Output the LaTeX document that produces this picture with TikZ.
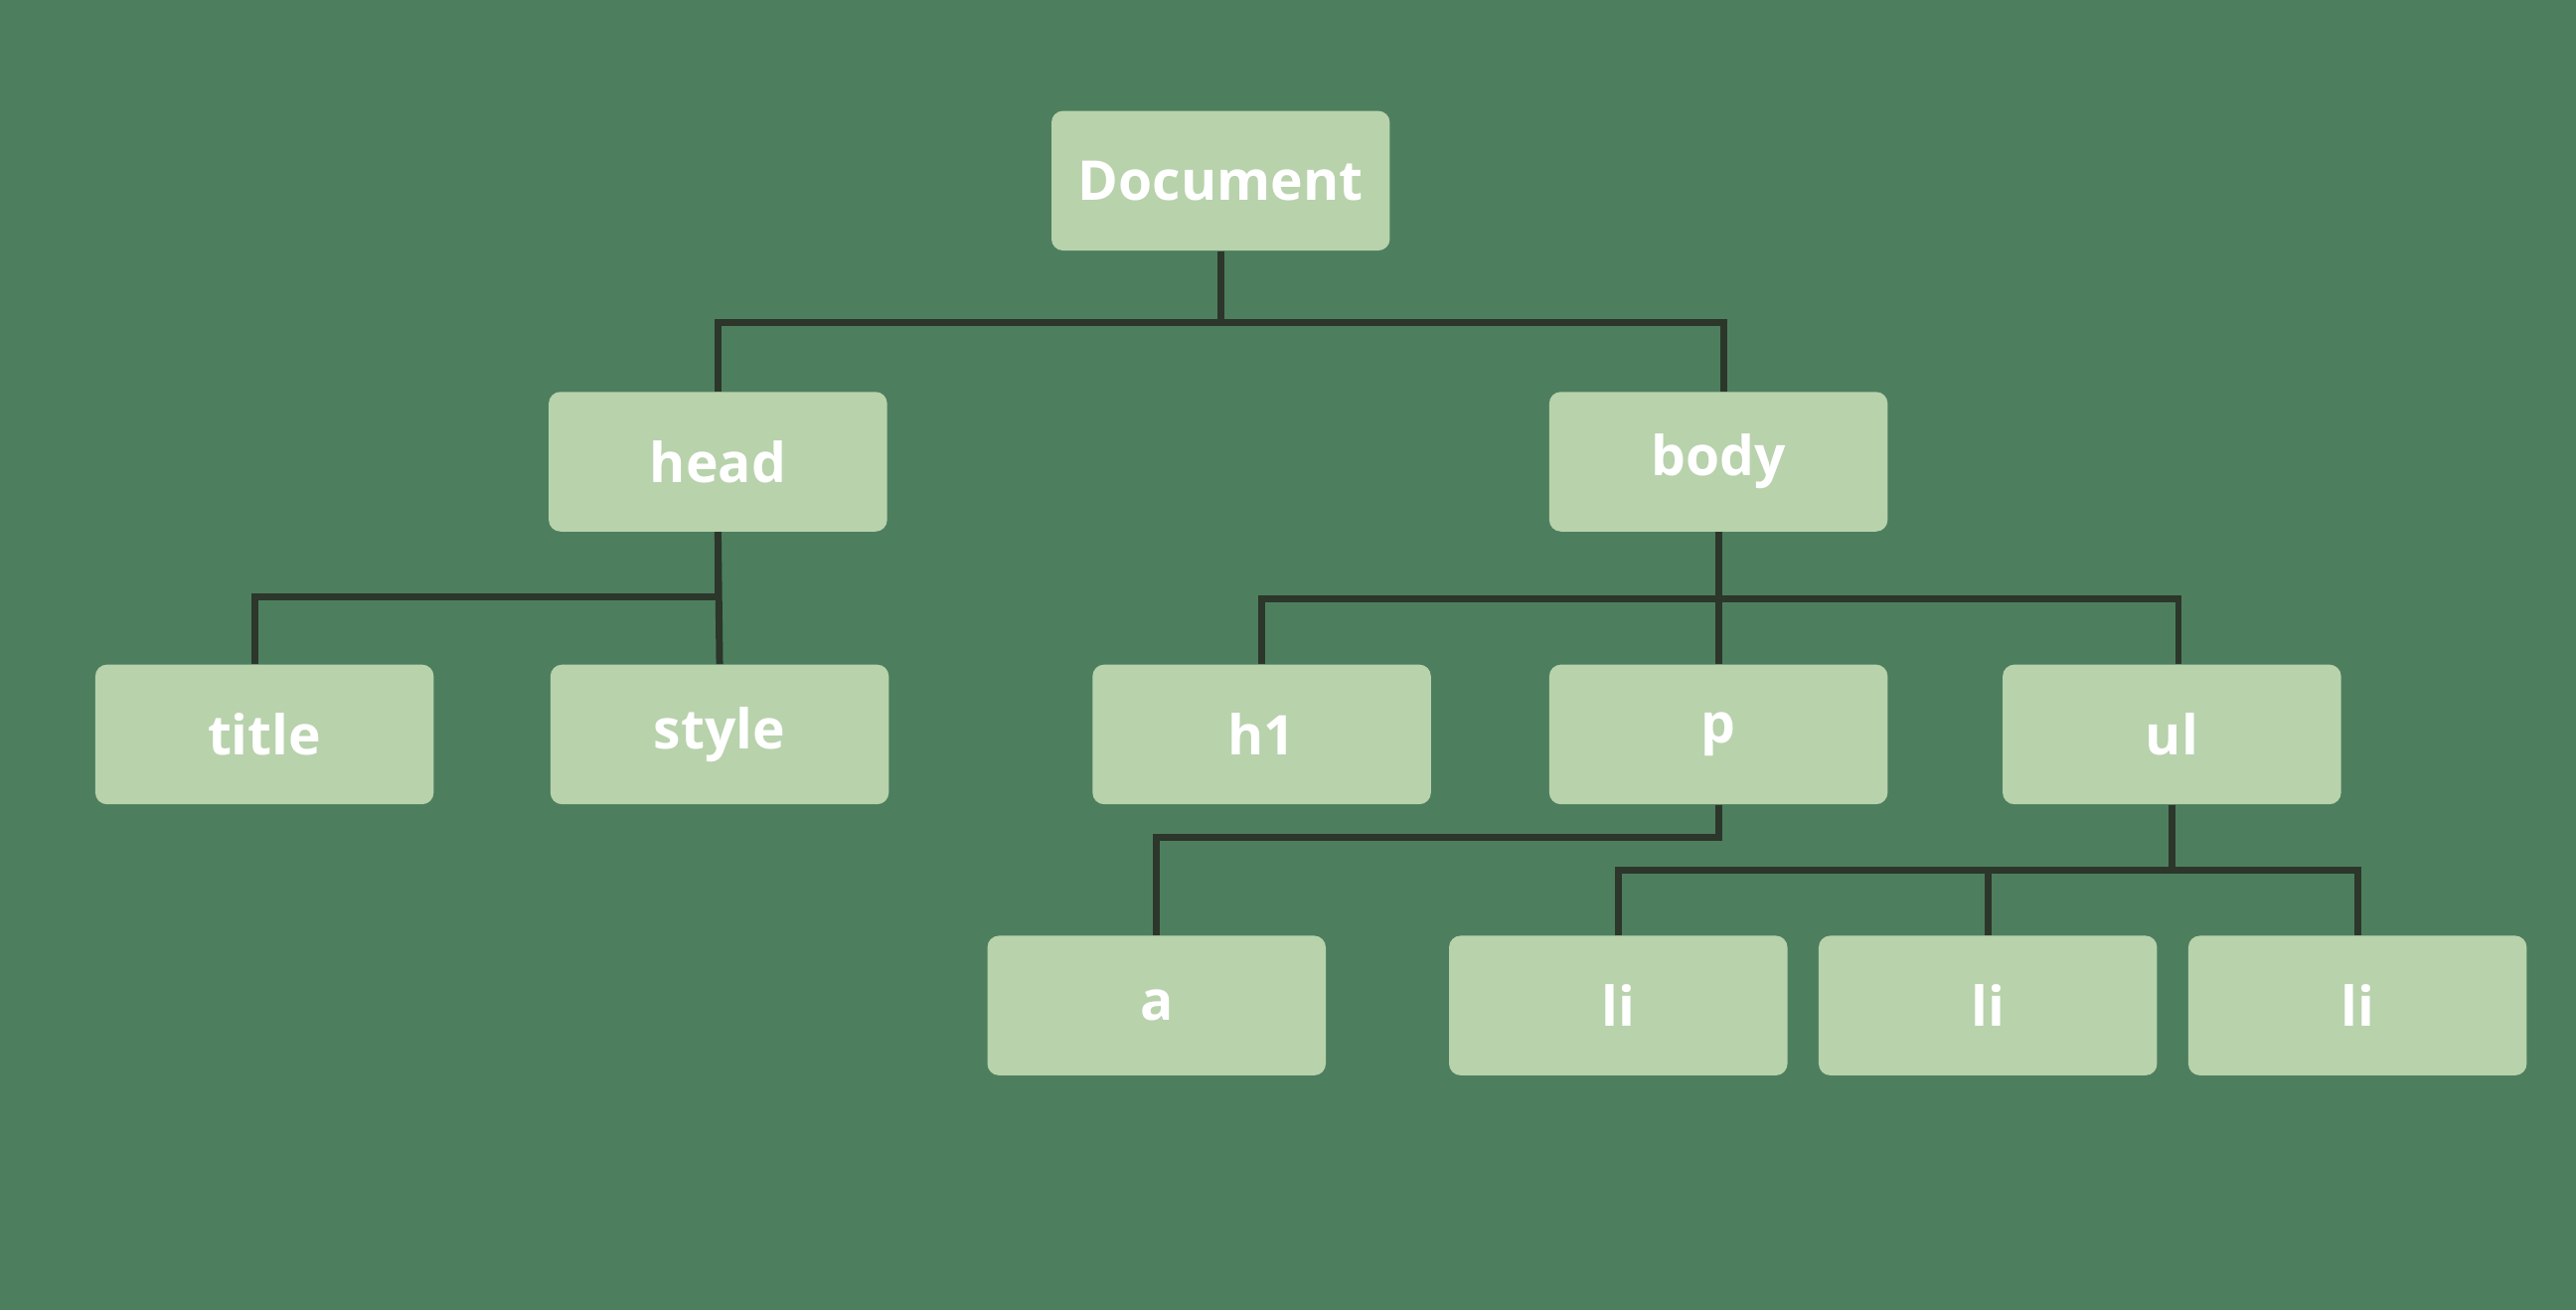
\documentclass[tikz,border=0pt]{standalone}
\usepackage{fontspec}
\setmainfont{Open Sans}
\definecolor{bggreen}{RGB}{77,127,94}
\definecolor{boxgreen}{RGB}{184,210,172}
\definecolor{wirecol}{RGB}{44,54,42}
\begin{document}
\begin{tikzpicture}[x = 0.02cm, y = -0.02cm,
  box/.style = {fill = boxgreen, rounded corners = 4pt, minimum width = 4.12cm, minimum height = 1.7cm, inner sep = 0pt, text = white, font = \fontsize{19}{22}\selectfont\bfseries},
  wire/.style = {draw = wirecol, line width = 2.4pt}]
\fill[bggreen] (0, 0) rectangle (1568, 797);

\node[box] (doc) at (743, 110) {Document};
\node[box] (head) at (437, 281) {head};
\node[box] (body) at (1046, 281) {body};
\node[box] (title) at (161, 447) {title};
\node[box] (style) at (438, 447) {style};
\node[box] (h1) at (768, 447) {h1};
\node[box] (p) at (1046, 447) {p};
\node[box] (ul) at (1322, 447) {ul};
\node[box] (a) at (704, 612) {a};
\node[box] (li1) at (985, 612) {li};
\node[box] (li2) at (1210, 612) {li};
\node[box] (li3) at (1435, 612) {li};

\draw[wire] (doc.south) -- ++(0, 43.5) -| (head.north);
\draw[wire] (doc.south) -- ++(0, 43.5) -| ([xshift = 0.06cm]body.north);
\draw[wire] (head.south) -- ++(0, 39.5) -| ([xshift = -0.12cm]title.north);
\draw[wire] (head.south) -- (style.north);
\draw[wire] (body.south) -- ++(0, 40.5) -| (h1.north);
\draw[wire] (body.south) -- (p.north);
\draw[wire] (body.south) -- ++(0, 40.5) -| ([xshift = 0.08cm]ul.north);
\draw[wire] (p.south) -- ++(0, 20) -| (a.north);
\draw[wire] (ul.south) -- ++(0, 40) -| (li1.north);
\draw[wire] (ul.south) -- ++(0, 40) -| (li2.north);
\draw[wire] (ul.south) -- ++(0, 40) -| (li3.north);
\end{tikzpicture}
\end{document}
